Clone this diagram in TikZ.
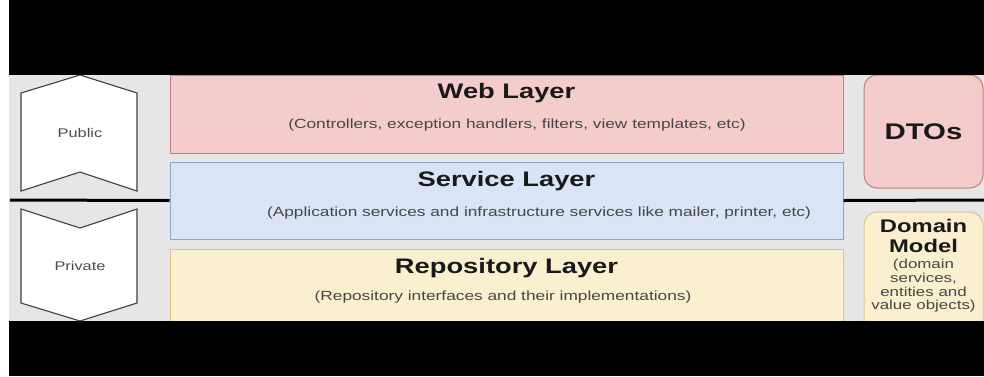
\documentclass[tikz,border=0pt]{standalone}
\usepackage{fontspec}
\setmainfont{Liberation Sans}[FakeStretch=1.3]
\definecolor{bggray}{HTML}{E6E6E6}
\definecolor{webfill}{HTML}{F3CCCB}
\definecolor{webline}{HTML}{BF7F7D}
\definecolor{svcfill}{HTML}{D9E4F7}
\definecolor{svcline}{HTML}{8EA5CB}
\definecolor{repfill}{HTML}{FAEFCE}
\definecolor{repline}{HTML}{D8C68E}
\definecolor{penline}{HTML}{404040}
\tikzset{
  layerbox/.style={draw, line width=1pt, inner sep=0pt, minimum width=673pt},
  sidebox/.style={draw, line width=1pt, inner sep=0pt, minimum width=119pt, rounded corners=13pt},
  titletext/.style={font=\fontsize{21}{24}\selectfont\bfseries, text=black!90, inner sep=0pt},
  subtext/.style={font=\fontsize{13.3}{15}\selectfont, text=black!72, inner sep=0pt},
  pentext/.style={font=\fontsize{12.6}{14}\selectfont, text=black!70, inner sep=0pt},
  penshape/.style={draw=penline, fill=white, line width=1.1pt, line join=miter},
  sepline/.style={line width=3pt, black}
}
\begin{document}
\begin{tikzpicture}[x=1pt,y=-1pt]
\useasboundingbox (0,0) rectangle (984,376);
\fill[white] (0,0) rectangle (984,376);
\fill[bggray] (9,75) rectangle (984,321);
% pentagons
\draw[penshape] (21,93) -- (80,75) -- (137,93) -- (137,191) -- (80,172) -- (21,191) -- cycle;
\draw[penshape] (21,209) -- (80,228) -- (137,209) -- (137,303) -- (80,321) -- (21,303) -- cycle;
\node[pentext] (pub) at (80,133) {Public};
\node[pentext] (priv) at (80,266) {Private};
% layer boxes
\node[layerbox, fill=webfill, draw=webline, minimum height=78pt] (web) at (506.5,114) {};
\node[layerbox, fill=svcfill, draw=svcline, minimum height=77pt] (svc) at (506.5,200.5) {};
\node[layerbox, fill=repfill, draw=repline, minimum height=86pt] (rep) at (506.5,292) {};
% side boxes
\node[sidebox, fill=webfill, draw=webline, minimum height=113pt] (dto) at (923.5,131.5) {};
\node[sidebox, fill=repfill, draw=repline, minimum height=123pt] (dom) at (923.5,273.5) {};
% separator
\coordinate (sepL) at (10,200);
\coordinate (sepR) at (984,200);
\draw[sepline] (sepL) -- (svc.west);
\draw[sepline] (svc.east) -- (sepR);
% texts
\node[titletext] (webT) at (506.5,93) {Web Layer};
\node[subtext] (webS) at (517,125) {(Controllers, exception handlers, filters, view templates, etc)};
\node[titletext] (svcT) at (506.5,181) {Service Layer};
\node[subtext] (svcS) at (539,213) {(Application services and infrastructure services like mailer, printer, etc)};
\node[titletext] (repT) at (506.5,268) {Repository Layer};
\node[subtext] (repS) at (503,297) {(Repository interfaces and their implementations)};
\node[titletext, font=\fontsize{22.6}{26}\selectfont\bfseries] (dtoT) at (923.5,132) {DTOs};
\node[titletext, align=center, font=\fontsize{18.3}{19.5}\selectfont\bfseries] (domT) at (923.5,236) {Domain\\Model};
\node[subtext, align=center, font=\fontsize{13}{13.6}\selectfont] (domS) at (923.5,286) {(domain\\services,\\entities and\\value objects)};
% black bars
\fill[black] (9,0) rectangle (984,75);
\fill[black] (9,321) rectangle (984,376);
\end{tikzpicture}
\end{document}
